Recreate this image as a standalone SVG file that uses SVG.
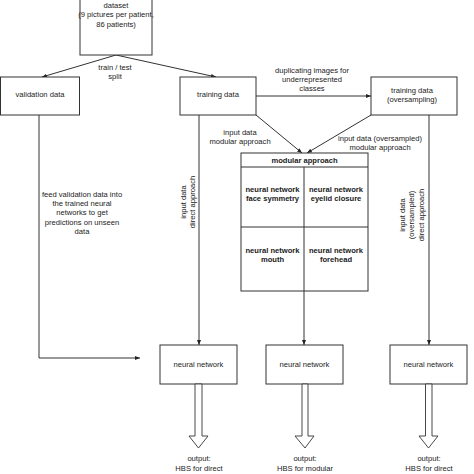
<svg xmlns="http://www.w3.org/2000/svg" width="474" height="474" viewBox="0 0 474 474">
<style>
.box{fill:#fff;stroke:#333;stroke-width:1}
.ln{fill:none;stroke:#333;stroke-width:1}
.t{font-family:"Liberation Sans",Arial,sans-serif;font-size:7.6px;fill:#222;text-anchor:middle}
.b{font-weight:bold}
.hol{fill:#fff;stroke:#333;stroke-width:0.9}
</style>
<defs>
<marker id="ah" viewBox="0 0 10 10" refX="10" refY="5" markerWidth="5" markerHeight="5" orient="auto" markerUnits="userSpaceOnUse">
<path d="M0,1 L10,5 L0,9 Z" fill="#222"/>
</marker>
</defs>
<rect width="474" height="474" fill="#fff"/>
<g id="connectors">
<line class="ln" x1="116" y1="55" x2="42" y2="77" marker-end="url(#ah)"/>
<line class="ln" x1="116" y1="55" x2="216" y2="77" marker-end="url(#ah)"/>
<text class="t" x="115" y="70">train / test</text>
<text class="t" x="115" y="79">split</text>
<line class="ln" x1="256" y1="96" x2="371" y2="96" marker-end="url(#ah)"/>
<text class="t" x="312" y="73">duplicating images for</text>
<text class="t" x="312" y="82">underrepresented</text>
<text class="t" x="312" y="91">classes</text>
<polyline class="ln" points="39,115 39,358 140,358" marker-end="url(#ah)"/>
<text class="t" x="82" y="197">feed validation data into</text>
<text class="t" x="82" y="206">the trained neural</text>
<text class="t" x="82" y="215">networks to get</text>
<text class="t" x="82" y="224.5">predictions on unseen</text>
<text class="t" x="82" y="234">data</text>
<line class="ln" x1="199" y1="115" x2="199" y2="345" marker-end="url(#ah)"/>
<text class="t" transform="translate(185.5,202) rotate(-90)">input data</text>
<text class="t" transform="translate(195,202) rotate(-90)">direct approach</text>
<line class="ln" x1="256" y1="115" x2="302" y2="153" marker-end="url(#ah)"/>
<line class="ln" x1="371" y1="115" x2="307" y2="153" marker-end="url(#ah)"/>
<text class="t" x="240" y="134.5">input data</text>
<text class="t" x="240" y="143.5">modular approach</text>
<text class="t" x="380" y="140.5">input data (oversampled)</text>
<text class="t" x="380" y="149.5">modular approach</text>
<line class="ln" x1="304" y1="291" x2="304" y2="345" marker-end="url(#ah)"/>
<line class="ln" x1="429" y1="115" x2="429" y2="345" marker-end="url(#ah)"/>
<text class="t" transform="translate(404.5,215) rotate(-90)">input data</text>
<text class="t" transform="translate(414,215) rotate(-90)">(oversampled)</text>
<text class="t" transform="translate(423.5,215) rotate(-90)">direct approach</text>
</g>
<g id="dataset">
<rect class="box" x="80" y="-2" width="72" height="57"/>
<text class="t" x="116" y="7.5">dataset</text>
<text class="t" x="116" y="17">(9 pictures per patient,</text>
<text class="t" x="116" y="26.5">86 patients)</text>
</g>
<g id="validation">
<rect class="box" x="0.5" y="77" width="79" height="38"/>
<text class="t" x="40" y="96.5">validation data</text>
</g>
<g id="training">
<rect class="box" x="180" y="77" width="76" height="38"/>
<text class="t" x="218" y="96.5">training data</text>
</g>
<g id="oversampling">
<rect class="box" x="371" y="77" width="86" height="38"/>
<text class="t" x="412" y="92.5">training data</text>
<text class="t" x="412" y="101.5">(oversampling)</text>
</g>
<g id="modular">
<rect class="box" x="241" y="153" width="127" height="138"/>
<line class="ln" x1="241" y1="167" x2="368" y2="167"/>
<line class="ln" x1="304" y1="167" x2="304" y2="291"/>
<line class="ln" x1="241" y1="227" x2="368" y2="227"/>
<text class="t b" x="304.5" y="163">modular approach</text>
<text class="t b" x="272.5" y="191.5">neural network</text>
<text class="t b" x="272.5" y="201">face symmetry</text>
<text class="t b" x="336" y="191.5">neural network</text>
<text class="t b" x="336" y="201">eyelid closure</text>
<text class="t b" x="272.5" y="252.5">neural network</text>
<text class="t b" x="272.5" y="262">mouth</text>
<text class="t b" x="336" y="252.5">neural network</text>
<text class="t b" x="336" y="262">forehead</text>
</g>
<g id="nn1">
<rect class="box" x="160" y="345" width="77" height="39"/>
<text class="t" x="198.5" y="366.5">neural network</text>
<path class="hol" d="M195,384 L202,384 L202,436 L208,436 L198.5,448 L189,436 L195,436 Z"/>
<text class="t" x="199" y="461">output:</text>
<text class="t" x="199" y="470.5">HBS for direct</text>
</g>
<g id="nn2">
<rect class="box" x="266" y="345" width="77" height="39"/>
<text class="t" x="304.5" y="366.5">neural network</text>
<path class="hol" d="M302,384 L308,384 L308,436 L314,436 L305,448 L295,436 L302,436 Z"/>
<text class="t" x="305" y="461">output:</text>
<text class="t" x="305" y="470.5">HBS for modular</text>
</g>
<g id="nn3">
<rect class="box" x="390" y="345" width="77" height="39"/>
<text class="t" x="428.5" y="366.5">neural network</text>
<path class="hol" d="M425.5,384 L432,384 L432,436 L438,436 L428.5,448 L419,436 L425.5,436 Z"/>
<text class="t" x="429" y="461">output:</text>
<text class="t" x="429" y="470.5">HBS for direct</text>
</g>
</svg>
